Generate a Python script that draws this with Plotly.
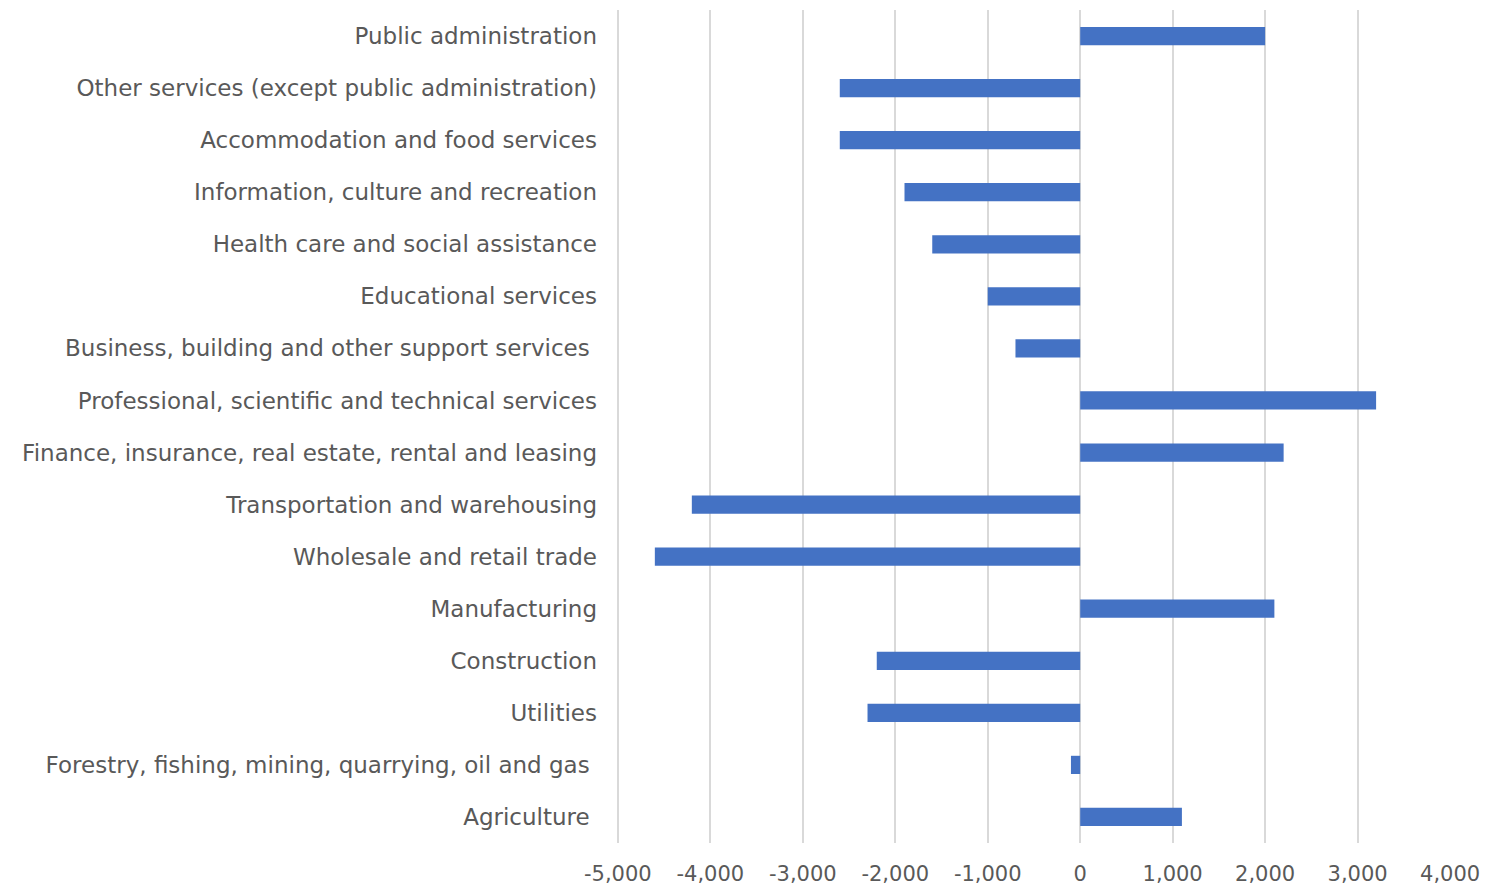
import plotly.graph_objects as go

# Industries listed bottom-to-top (plotly draws the first category at the bottom)
industries = [
    "Agriculture ",
    "Forestry, fishing, mining, quarrying, oil and gas ",
    "Utilities",
    "Construction",
    "Manufacturing",
    "Wholesale and retail trade",
    "Transportation and warehousing",
    "Finance, insurance, real estate, rental and leasing",
    "Professional, scientific and technical services",
    "Business, building and other support services ",
    "Educational services",
    "Health care and social assistance",
    "Information, culture and recreation",
    "Accommodation and food services",
    "Other services (except public administration)",
    "Public administration",
]
change = [1100, -100, -2300, -2200, 2100, -4600, -4200, 2200, 3200,
          -700, -1000, -1600, -1900, -2600, -2600, 2000]

x_ticks = [-5000, -4000, -3000, -2000, -1000, 0, 1000, 2000, 3000, 4000]
x_tick_text = ["-5,000", "-4,000", "-3,000", "-2,000", "-1,000", "0",
               "1,000", "2,000", "3,000", "4,000"]

font_family = "Century Gothic, DejaVu Sans, sans-serif"
text_color = "#595959"
grid_color = "#d9d9d9"

fig = go.Figure(
    go.Bar(
        x=change,
        y=industries,
        orientation="h",
        marker=dict(color="#4472C4", line=dict(width=0)),
        hoverinfo="x+y",
    )
)

fig.update_layout(
    width=1508,
    height=886,
    margin=dict(l=616, r=57, t=10, b=43),
    paper_bgcolor="white",
    plot_bgcolor="white",
    bargap=0.65,
    showlegend=False,
    font=dict(family=font_family, size=23, color=text_color),
)

fig.update_xaxes(
    range=[-5020, 4010],
    tickvals=x_ticks,
    ticktext=x_tick_text,
    showgrid=True,
    gridcolor=grid_color,
    gridwidth=2,
    zeroline=True,
    zerolinecolor=grid_color,
    zerolinewidth=2,
    showline=False,
    ticks="",
    ticklabelstandoff=16,
    automargin=False,
    tickfont=dict(family=font_family, size=21, color=text_color),
)

fig.update_yaxes(
    categoryorder="array",
    categoryarray=industries,
    showgrid=False,
    zeroline=False,
    showline=False,
    ticks="",
    ticklabelstandoff=18,
    automargin=False,
    tickfont=dict(family=font_family, size=23, color=text_color),
)

fig.write_html("out.html")
